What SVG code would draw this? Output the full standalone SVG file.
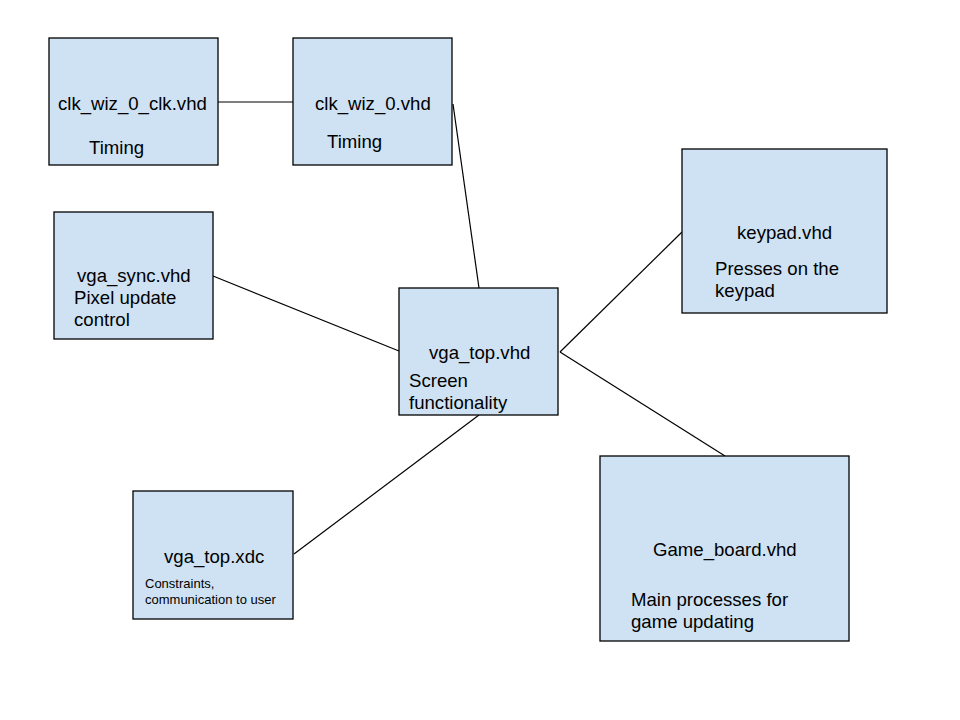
<svg xmlns="http://www.w3.org/2000/svg" width="960" height="720" viewBox="0 0 960 720">
<style>
.box{fill:#cfe2f3;stroke:#000;stroke-width:1.3}
.t{font-family:"Liberation Sans",Arial,sans-serif;font-size:18.6px;fill:#000}
.s{font-family:"Liberation Sans",Arial,sans-serif;font-size:13px;fill:#000}
.c{stroke:#000;stroke-width:1.2;fill:none}
</style>
<rect width="960" height="720" fill="#fff"/>
<g id="connectors">
<line class="c" x1="218" y1="102" x2="293" y2="102"/>
<line class="c" x1="453" y1="104" x2="479" y2="288"/>
<line class="c" x1="213" y1="276" x2="399" y2="351"/>
<line class="c" x1="479" y1="415" x2="294" y2="554"/>
<line class="c" x1="682" y1="232" x2="560" y2="352"/>
<line class="c" x1="560" y1="352" x2="725" y2="456"/>
</g>
<g id="clk_wiz_0_clk">
<rect class="box" x="49" y="38" width="169" height="127"/>
<text class="t" x="58" y="110">clk_wiz_0_clk.vhd</text>
<text class="t" x="89" y="154">Timing</text>
</g>
<g id="clk_wiz_0">
<rect class="box" x="293" y="38" width="159" height="127"/>
<text class="t" x="315" y="110">clk_wiz_0.vhd</text>
<text class="t" x="327" y="148">Timing</text>
</g>
<g id="vga_sync">
<rect class="box" x="54" y="212" width="159" height="127"/>
<text class="t" x="77" y="282">vga_sync.vhd</text>
<text class="t" x="74" y="304">Pixel update</text>
<text class="t" x="74" y="326">control</text>
</g>
<g id="vga_top">
<rect class="box" x="399" y="288" width="159" height="127"/>
<text class="t" x="429" y="359">vga_top.vhd</text>
<text class="t" x="409" y="387">Screen</text>
<text class="t" x="409" y="409">functionality</text>
</g>
<g id="vga_top_xdc">
<rect class="box" x="133" y="491" width="160" height="128"/>
<text class="t" x="164" y="563">vga_top.xdc</text>
<text class="s" x="145" y="588">Constraints,</text>
<text class="s" x="145" y="604">communication to user</text>
</g>
<g id="keypad">
<rect class="box" x="682" y="149" width="205" height="164"/>
<text class="t" x="737" y="239">keypad.vhd</text>
<text class="t" x="715" y="275">Presses on the</text>
<text class="t" x="715" y="297">keypad</text>
</g>
<g id="game_board">
<rect class="box" x="600" y="456" width="249" height="185"/>
<text class="t" x="653" y="556">Game_board.vhd</text>
<text class="t" x="631" y="606">Main processes for</text>
<text class="t" x="631" y="628">game updating</text>
</g>
</svg>
